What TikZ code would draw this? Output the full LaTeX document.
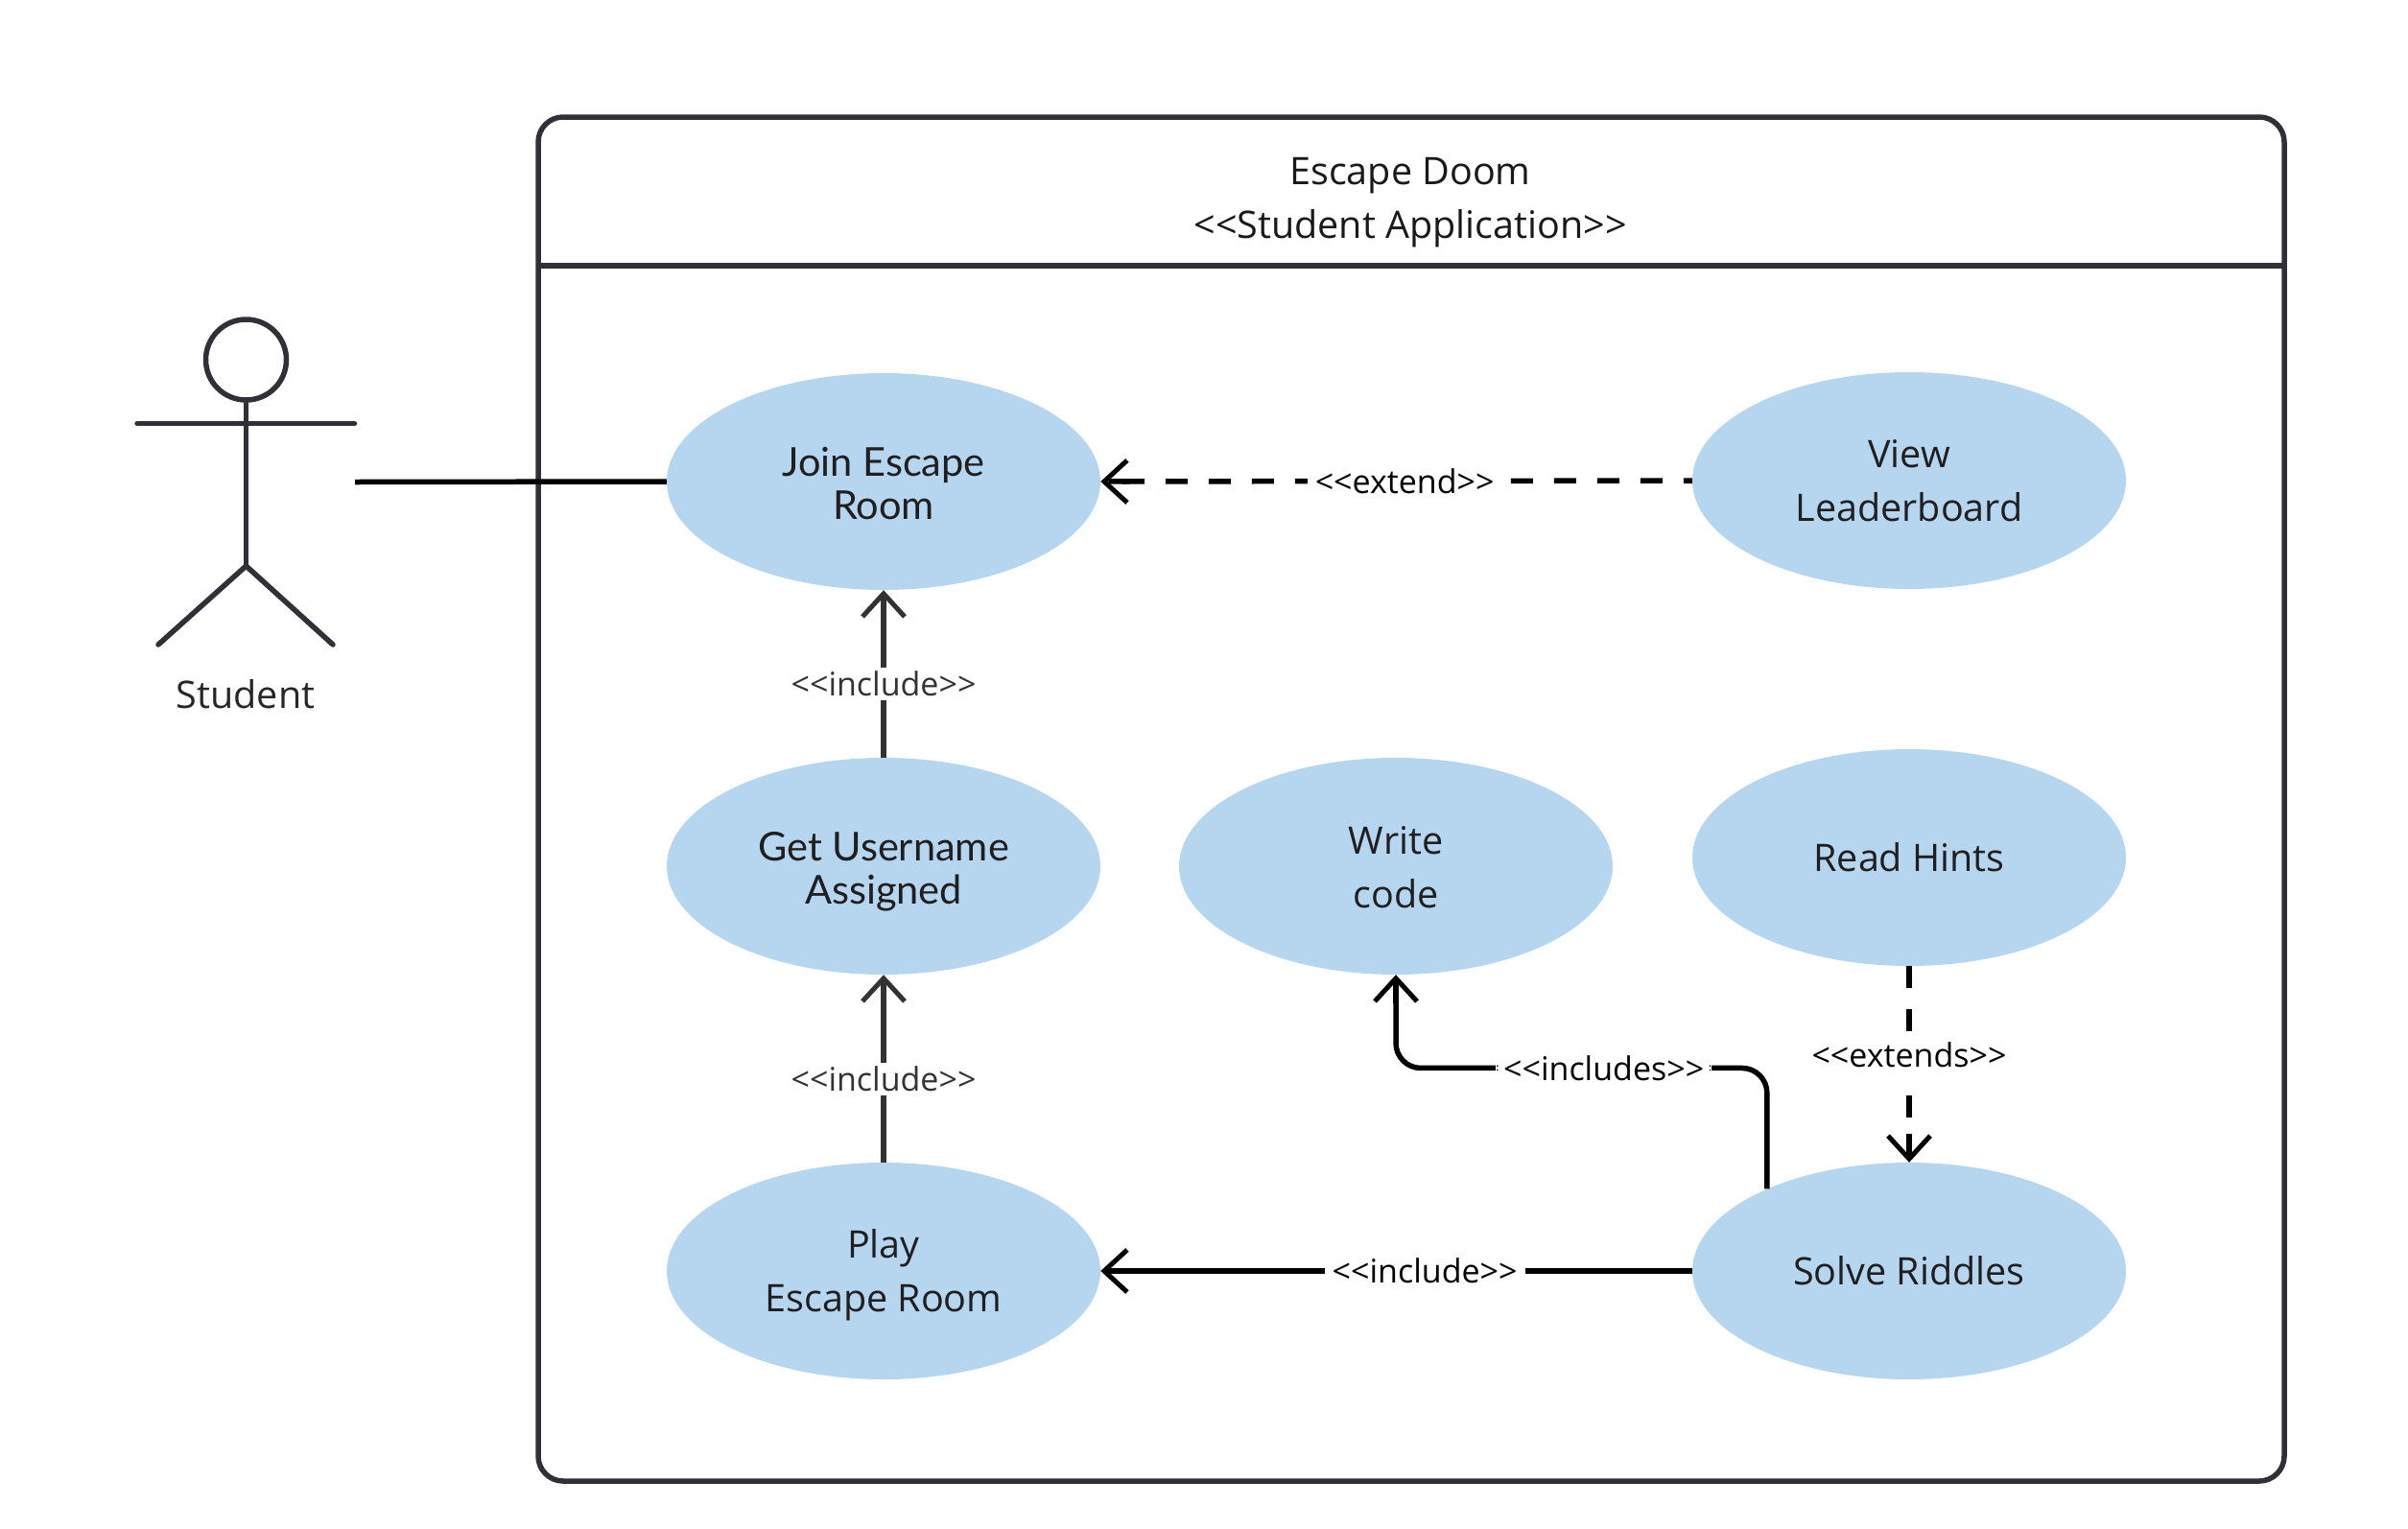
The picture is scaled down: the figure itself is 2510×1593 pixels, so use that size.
\documentclass[tikz,border=0pt]{standalone}
\usepackage{fontspec}
\setmainfont{Open Sans}
\newfontfamily\roundfont{Lato}
\usetikzlibrary{shapes.geometric,arrows.meta}
\definecolor{framecol}{HTML}{2F3038}
\definecolor{casecol}{HTML}{B6D6F0}
\definecolor{inccol}{HTML}{333333}
\newcommand{\lowered}[2]{\raisebox{-#1}{\smash{\begin{tabular}{@{}c@{}}#2\end{tabular}}}}
\tikzset{
  x=1pt,y=-1pt,
  frameline/.style={draw=framecol,line width=5.5pt},
  usecase/.style={ellipse,fill=casecol,minimum width=452pt,minimum height=226pt,inner sep=0pt,align=center,text=black!88,font=\fontsize{39.5}{56}\selectfont},
  usecasealt/.style={usecase,font=\roundfont\fontsize{41.5}{45}\selectfont},
  barb/.style={-{Rectangle[length=22pt,width=5.5pt,line width=0pt,sep=-22pt]Straight Barb[length=24pt,width=44pt,line width=5pt]}},
  solidconn/.style={draw=black,line width=5.5pt,barb},
  darkconn/.style={draw=inccol,line width=5.5pt,barb},
  dashconn/.style={solidconn,dash pattern=on 23pt off 22pt},
  lbl/.style={fill=white,inner xsep=8pt,inner ysep=4pt,font=\fontsize{34}{38}\selectfont},
  actorline/.style={draw=framecol,line width=5.5pt,line cap=round},
}
\begin{document}
\begin{tikzpicture}
\useasboundingbox (0,0) rectangle (2510,1593);
% system frame
\node[frameline,rectangle,rounded corners=26pt,minimum width=1820pt,minimum height=1422pt,inner sep=0pt,outer sep=0pt] (frame) at (1471,833) {};
\coordinate (divL) at (561,277);
\coordinate (divR) at (2381,277);
\draw[draw=framecol,line width=5.5pt] (divL) -- (divR);
\node[font=\fontsize{39.5}{56}\selectfont,align=center,text=black!90] (title) at (1470,211) {Escape Doom\\<{}<Student Application>{}>};
% use cases
\node[usecasealt] (join) at (921,502) {\lowered{29pt}{Join Escape\\Room}};
\node[usecase] (view) at (1990,501) {\lowered{19.6pt}{View\\Leaderboard}};
\node[usecasealt] (get) at (921,903) {\lowered{27.8pt}{Get Username\\Assigned}};
\node[usecase] (write) at (1455,903) {\lowered{21.2pt}{Write\\code}};
\node[usecase] (read) at (1990,894) {Read Hints};
\node[usecase] (play) at (921,1325) {\lowered{18.2pt}{Play\\Escape Room}};
\node[usecase] (solve) at (1990,1325) {Solve Riddles};
% actor
\node[circle,frameline,minimum size=84pt,inner sep=0pt,outer sep=0pt] (head) at (256.5,375) {};
\coordinate (armL) at (143,441.5);
\coordinate (armR) at (369.5,441.5);
\coordinate (hip) at (256.5,590);
\coordinate (legL) at (165,672);
\coordinate (legR) at (347,672);
\draw[actorline] (head.south) -- (hip);
\draw[actorline] (armL) -- (armR);
\draw[actorline] (legL) -- (hip) -- (legR);
\node[font=\fontsize{39.5}{45}\selectfont,text=black!85] (student) at (256,724) {Student};
% connectors
\coordinate (assoc) at (370,502.5);
\draw[draw=black,line width=5.5pt] (assoc) -- (join.west);
\draw[dashconn,dash phase=14pt] (view.west) -- node[lbl,pos=0.486] (extendlbl) {<{}<extend>{}>} (join.east);
\draw[darkconn] (get.north) -- node[lbl,text=inccol,pos=0.44] (inc1) {<{}<include>{}>} (join.south);
\draw[darkconn] (play.north) -- node[lbl,text=inccol,pos=0.444] (inc2) {<{}<include>{}>} (get.south);
\draw[solidconn] (solve.west) -- node[lbl,pos=0.452] (inc3) {<{}<include>{}>} (play.east);
\draw[solidconn,rounded corners=26pt] (solve.150.6) -- ++(0,-126) -| node[lbl,pos=0.22] (incs) {<{}<includes>{}>} (write.south);
\draw[dashconn] (read.south) -- node[lbl,pos=0.454,inner ysep=7pt] (exts) {<{}<extends>{}>} (solve.north);
\end{tikzpicture}
\end{document}
